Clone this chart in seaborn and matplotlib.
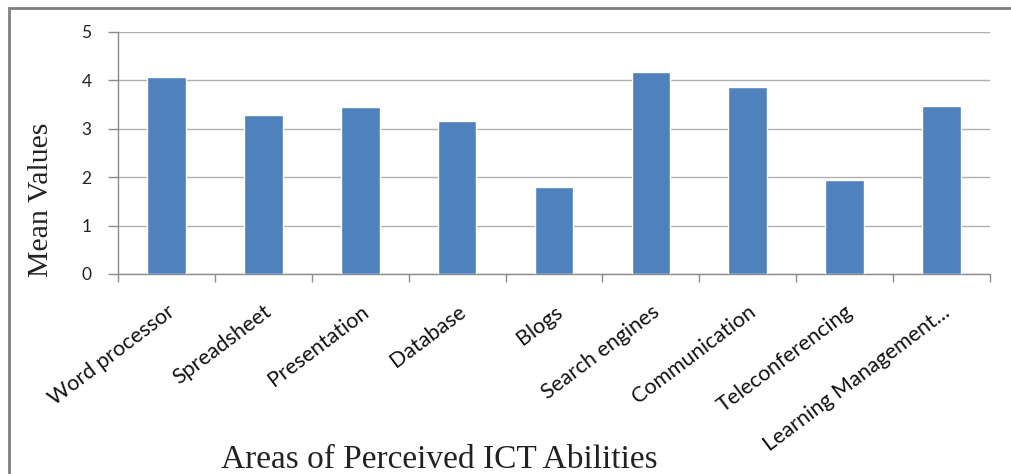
import numpy as np
import pandas as pd
import matplotlib
matplotlib.use("Agg")
import matplotlib.pyplot as plt
import matplotlib.patches as mpatches
import seaborn as sns

# data
areas = ["Word processor", "Spreadsheet", "Presentation", "Database", "Blogs",
         "Search engines", "Communication", "Teleconferencing", "Learning Management..."]
mean_values = [4.07, 3.29, 3.45, 3.17, 1.80, 4.18, 3.87, 1.94, 3.48]

df = pd.DataFrame({"area": areas, "mean": mean_values})

sns.set_style("white")

fig = plt.figure(figsize=(10.12, 4.74), dpi=100)
ax = fig.add_axes([118 / 1012, 1 - 274 / 474, (990 - 118) / 1012, (274 - 32) / 474])

sns.barplot(data=df, x="area", y="mean", color="#4F81BD", width=0.4,
            saturation=1, ax=ax, zorder=3)

ax.set_ylim(0, 5)
ax.set_xlim(-0.5, len(areas) - 0.5)
ax.set_yticks(range(0, 6))
ax.yaxis.grid(True, color="#b0b0b0", linewidth=1.0, zorder=0)
ax.set_axisbelow(True)

for side in ["top", "right"]:
    ax.spines[side].set_visible(False)
for side in ["left", "bottom"]:
    ax.spines[side].set_color("#8c8c8c")
    ax.spines[side].set_linewidth(1.0)

# y ticks: short marks on the left
ax.tick_params(axis="y", which="major", direction="out", length=7, width=1,
               color="#8c8c8c", labelsize=12.5, pad=12, labelcolor="#222222", left=True)

# x ticks between categories
ax.set_xticks(np.arange(-0.5, len(areas), 1.0), minor=True)
ax.tick_params(axis="x", which="minor", direction="out", length=6, width=1,
               color="#8c8c8c", bottom=True)
ax.tick_params(axis="x", which="major", length=0, pad=20, labelsize=15.5,
               labelcolor="#111111")
for lab in ax.get_xticklabels():
    lab.set_rotation(37)
    lab.set_ha("right")
    lab.set_rotation_mode("anchor")
    lab.set_family("Lato")
for lab in ax.get_yticklabels():
    lab.set_family("Lato")

ax.set_xlabel("")
ax.set_ylabel("")
fig.text(41 / 1012, 1 - 200 / 474, "Mean Values", rotation=90,
         family="Liberation Serif", fontsize=21.5, ha="center", va="center", color="#222222")
fig.text(439 / 1012, 1 - 460 / 474, "Areas of Perceived ICT Abilities",
         family="Liberation Serif", fontsize=24, ha="center", va="center", color="#222222")

# outer chart frame
fig.patches.append(mpatches.Rectangle((9 / 1012, -0.1), 1.2, 1 - 8 / 474 + 0.1,
                                      transform=fig.transFigure, fill=False,
                                      edgecolor="#7f7f7f", linewidth=2))

fig.savefig("out.png", dpi=100)
